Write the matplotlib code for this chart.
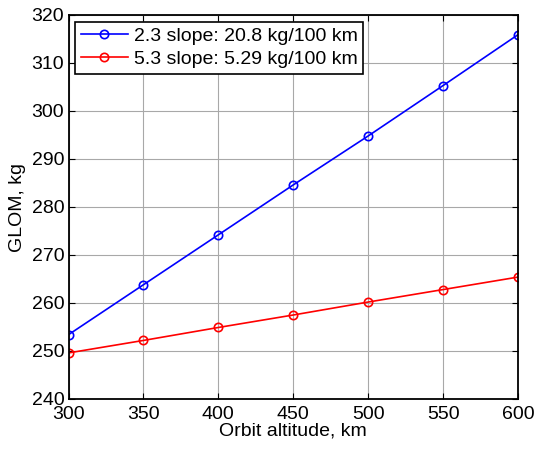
import numpy as np
import matplotlib.pyplot as plt

# orbit altitude [km] and GLOM [kg] for the two cases
altitude = [300, 350, 400, 450, 500, 550, 600]
glom_23 = [253.4, 263.8, 274.2, 284.6, 294.8, 305.3, 315.9]
glom_53 = [249.6, 252.2, 254.9, 257.5, 260.2, 262.8, 265.4]
labels = ['2.3 slope: 20.8 kg/100 km', '5.3 slope: 5.29 kg/100 km']

plt.rcParams['font.family'] = ['Liberation Sans', 'DejaVu Sans']
plt.rcParams['font.size'] = 14

fig = plt.figure(figsize=(5.36, 4.49), dpi=100)
ax = fig.add_axes([68.5/536, 1 - 399/449, (518-68.5)/536, (399-15)/449])

ax.plot(altitude, glom_23, 'b-o', lw=1.2, ms=6, mfc='none', mew=1.2, label=labels[0])
ax.plot(altitude, glom_53, 'r-o', lw=1.2, ms=6, mfc='none', mew=1.2, label=labels[1])

ax.set_xlim(300, 600)
ax.set_ylim(240, 320)
ax.set_xticks(np.arange(300, 601, 50))
ax.set_yticks(np.arange(240, 321, 10))
ax.grid(True, color='#a8a8a8', lw=0.8)
ax.tick_params(direction='in', length=4, top=True, right=True, width=0.8)
ax.tick_params(axis='x', pad=5)
ax.tick_params(axis='y', pad=3)
for s in ax.spines.values():
    s.set_linewidth(1.3)

ax.set_xlabel('Orbit altitude, km', labelpad=0)
ax.set_ylabel('GLOM, kg', labelpad=4)

leg = ax.legend(loc='upper left', fancybox=False, framealpha=1, edgecolor='k',
                borderaxespad=0.35, handlelength=2.4, borderpad=0.3,
                labelspacing=0.25, handletextpad=0.3)
leg.get_frame().set_linewidth(1.2)

fig.savefig('out.png', dpi=100)
